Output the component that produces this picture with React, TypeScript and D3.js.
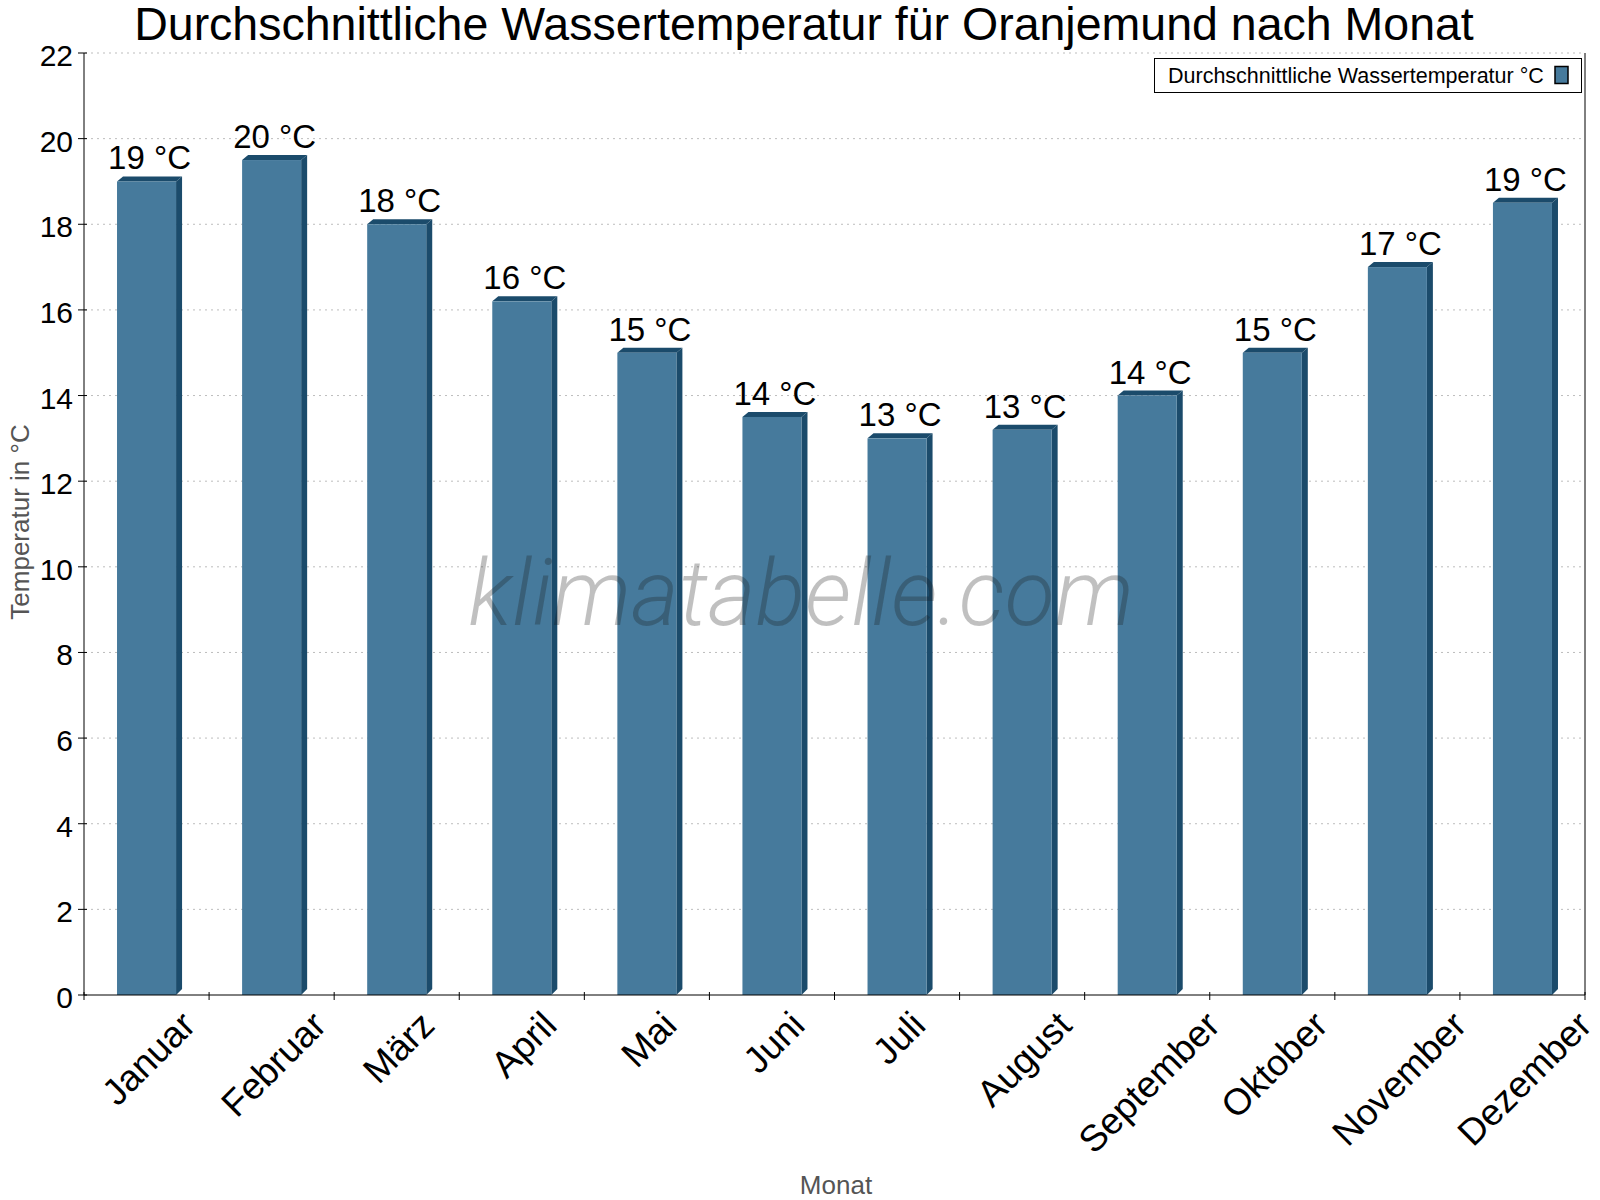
import React, { useRef, useEffect } from "react";
import * as d3 from "d3";

const months = ["Januar", "Februar", "März", "April", "Mai", "Juni", "Juli", "August", "September", "Oktober", "November", "Dezember"];
const waterTemp = [19, 19.5, 18, 16.2, 15, 13.5, 13, 13.2, 14, 15, 17, 18.5];
const yTicks = [0, 2, 4, 6, 8, 10, 12, 14, 16, 18, 20, 22];

const title = "Durchschnittliche Wassertemperatur für Oranjemund nach Monat";
const legendLabel = "Durchschnittliche Wassertemperatur °C";

const Chart: React.FC = () => {
  const ref = useRef<SVGSVGElement | null>(null);

  useEffect(() => {
    if (!ref.current) return;
    const svg = d3.select(ref.current);
    svg.selectAll("*").remove();

    const left = 84, right = 1585, top = 53, bottom = 995;
    const depth = 6;
    const front = "#467a9c";
    const dark = "#1b4b6b";
    const font = "'Liberation Sans', Arial, sans-serif";

    const x = d3.scaleBand<string>().domain(months).range([left, right]).paddingInner(0).paddingOuter(0);
    const y = d3.scaleLinear().domain([0, 22]).range([bottom, top]);

    // gitterlinien
    svg.append("g")
      .selectAll("line")
      .data(yTicks.filter((t) => t > 0))
      .enter()
      .append("line")
      .attr("x1", left + 1)
      .attr("x2", right - 3)
      .attr("y1", (d) => y(d))
      .attr("y2", (d) => y(d))
      .attr("stroke", "#bdbdbd")
      .attr("stroke-width", 1)
      .attr("stroke-dasharray", "2,4");

    // balken (3D)
    const bw = x.bandwidth() * 0.472;
    const bars = svg.append("g");
    waterTemp.forEach((v, i) => {
      const cx = (x(months[i]) as number) + x.bandwidth() / 2;
      const x0 = cx - bw / 2;
      const x1 = cx + bw / 2;
      const yt = y(v);
      bars.append("polygon")
        .attr("points", `${x1},${yt} ${x1 + depth},${yt - depth + 1} ${x1 + depth},${bottom - depth} ${x1},${bottom}`)
        .attr("fill", dark);
      bars.append("polygon")
        .attr("points", `${x0},${yt} ${x0 + depth},${yt - depth + 1} ${x1 + depth},${yt - depth + 1} ${x1},${yt}`)
        .attr("fill", dark);
      bars.append("rect")
        .attr("x", x0)
        .attr("y", yt)
        .attr("width", bw)
        .attr("height", bottom - yt)
        .attr("fill", front);
      bars.append("text")
        .attr("x", cx + depth / 2)
        .attr("y", yt - 12)
        .attr("text-anchor", "middle")
        .style("font-family", font)
        .style("font-size", "33px")
        .attr("fill", "#000")
        .text(`${Math.round(v)} °C`);
    });

    // wasserzeichen
    svg.append("text")
      .attr("x", 801)
      .attr("y", 625)
      .attr("text-anchor", "middle")
      .style("font-family", "Roboto, 'Open Sans', sans-serif")
      .style("font-weight", "300")
      .style("font-style", "italic")
      .style("font-size", "92px")
      .attr("fill", "#181818")
      .attr("fill-opacity", 0.27)
      .text("klimatabelle.com");

    // achsen
    svg.append("line").attr("x1", left).attr("x2", left).attr("y1", top).attr("y2", bottom).attr("stroke", "#000");
    svg.append("line").attr("x1", right).attr("x2", right).attr("y1", top).attr("y2", bottom).attr("stroke", "#000");
    svg.append("line").attr("x1", left).attr("x2", right).attr("y1", bottom).attr("y2", bottom).attr("stroke", "#000");

    const yt = svg.append("g");
    yTicks.forEach((t) => {
      yt.append("line").attr("x1", left - 6).attr("x2", left + 3).attr("y1", y(t)).attr("y2", y(t)).attr("stroke", "#000");
      yt.append("text")
        .attr("x", 73)
        .attr("y", y(t) + 13)
        .attr("text-anchor", "end")
        .style("font-family", font)
        .style("font-size", "30px")
        .text(String(t));
    });

    const xt = svg.append("g");
    months.forEach((m, i) => {
      const bx = (x(m) as number);
      xt.append("line").attr("x1", bx).attr("x2", bx).attr("y1", bottom - 3).attr("y2", bottom + 5).attr("stroke", "#000");
      const cx = bx + x.bandwidth() / 2;
      const lbl = xt.append("text")
        .attr("text-anchor", "middle")
        .attr("dominant-baseline", "central")
        .style("font-family", font)
        .style("font-size", "37px")
        .text(m);
      const w = (lbl.node() as SVGTextElement).getComputedTextLength();
      const h = 27;
      const bb = (w + h) * Math.SQRT1_2;
      const cy = 1009 + bb / 2;
      lbl.attr("transform", `translate(${cx + 2},${cy}) rotate(-45)`);
    });
    xt.append("line").attr("x1", right).attr("x2", right).attr("y1", bottom - 3).attr("y2", bottom + 5).attr("stroke", "#000");

    // achsentitel
    svg.append("text")
      .attr("transform", `translate(29,522) rotate(-90)`)
      .attr("text-anchor", "middle")
      .style("font-family", font)
      .style("font-size", "26px")
      .attr("fill", "#555")
      .text("Temperatur in °C");
    svg.append("text")
      .attr("x", 836)
      .attr("y", 1194)
      .attr("text-anchor", "middle")
      .style("font-family", font)
      .style("font-size", "26px")
      .attr("fill", "#555")
      .text("Monat");

    // titel
    svg.append("text")
      .attr("x", 804)
      .attr("y", 40)
      .attr("text-anchor", "middle")
      .style("font-family", font)
      .style("font-size", "46.5px")
      .text(title);

    // legende
    const lg = svg.append("g");
    lg.append("rect").attr("x", 1154.5).attr("y", 58.5).attr("width", 427).attr("height", 34).attr("fill", "#fff").attr("stroke", "#000");
    lg.append("text")
      .attr("x", 1168)
      .attr("y", 83)
      .style("font-family", font)
      .style("font-size", "21.5px")
      .text(legendLabel);
    lg.append("rect").attr("x", 1555).attr("y", 66.5).attr("width", 13).attr("height", 17).attr("fill", front).attr("stroke", "#000").attr("stroke-width", 1.5);
  }, []);

  return <svg ref={ref} width={1600} height={1200} viewBox="0 0 1600 1200" style={{ position: "absolute", left: 0, top: 0, background: "#fff" }} />;
};

export default function App() {
  return <Chart />;
}
